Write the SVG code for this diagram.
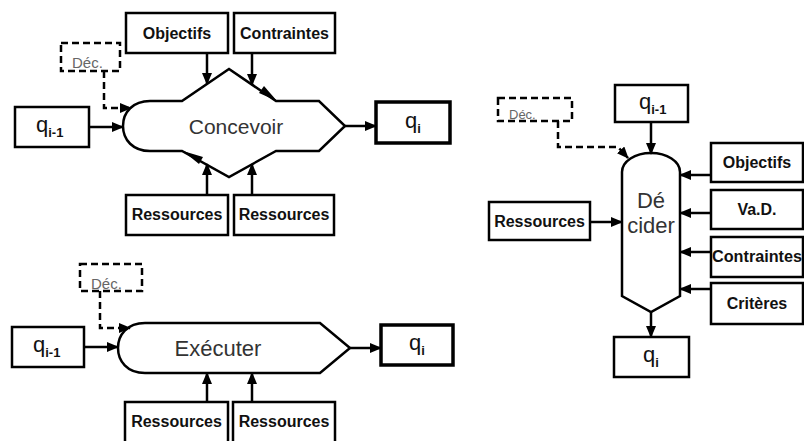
<svg xmlns="http://www.w3.org/2000/svg" width="804" height="441" viewBox="0 0 804 441">
<style>
.box{fill:#fff;stroke:#000;stroke-width:2.5}
.thick{fill:#fff;stroke:#000;stroke-width:3.5}
.dbox{fill:none;stroke:#000;stroke-width:2.5;stroke-dasharray:7 4}
.proc{fill:#fff;stroke:#000;stroke-width:2.5;stroke-linejoin:miter}
.lbl{font-family:"Liberation Sans",Arial,sans-serif;font-weight:bold;font-size:16px;fill:#111;text-anchor:middle}
.big{font-family:"Liberation Sans",Arial,sans-serif;font-size:21px;fill:#333;text-anchor:middle}
.dec{font-family:"Liberation Sans",Arial,sans-serif;font-size:15px;fill:#666}
.q{font-family:"Liberation Sans",Arial,sans-serif;font-size:22px;fill:#111}
.sub{font-size:13px;font-weight:bold}
.arr{fill:none;stroke:#000;stroke-width:2.5;marker-end:url(#ah)}
.darr{fill:none;stroke:#000;stroke-width:2.5;stroke-dasharray:7 4;marker-end:url(#ah)}
.tri{fill:#000}
</style>
<defs>
<marker id="ah" markerUnits="userSpaceOnUse" markerWidth="12" markerHeight="10" refX="11" refY="5" orient="auto">
<path d="M0,0 L12,5 L0,10 Z" fill="#000"/>
</marker>
</defs>
<rect width="804" height="441" fill="#fff"/>

<!-- Concevoir diagram -->
<g id="concevoir">
<path class="proc" d="M150,101 L182,101 L229,69 L276,101 L319,101 L345,126 L319,151 L276,151 L229,177 L182,151 L150,151 C133,151 123,140 123,126 C123,112 133,101 150,101 Z"/>
<text class="big" x="236" y="134">Concevoir</text>
</g>
<g id="c-obj"><rect class="box" x="126" y="13" width="102" height="40"/><text class="lbl" x="177" y="39">Objectifs</text></g>
<g id="c-con"><rect class="box" x="234" y="13" width="101" height="40"/><text class="lbl" x="284.5" y="39">Contraintes</text></g>
<g id="c-dec"><rect class="dbox" x="61" y="43" width="59" height="28"/><text class="dec" x="72" y="68">Déc.</text></g>
<g id="c-qin"><rect class="box" x="15" y="107" width="74" height="40"/><text class="q" x="36" y="132">q<tspan class="sub" dy="5">i-1</tspan></text></g>
<g id="c-qout"><rect class="thick" x="376" y="102" width="74" height="41"/><text class="q" x="405" y="128">q<tspan class="sub" dy="5">i</tspan></text></g>
<g id="c-res1"><rect class="box" x="126" y="195" width="102" height="40"/><text class="lbl" x="177" y="220">Ressources</text></g>
<g id="c-res2"><rect class="box" x="234" y="195" width="100" height="40"/><text class="lbl" x="284" y="220">Ressources</text></g>

<!-- Exécuter diagram -->
<g id="executer">
<path class="proc" d="M145,323 L320,323 L350,348 L320,373 L145,373 C127,373 118,361 118,348 C118,335 127,323 145,323 Z"/>
<text class="big" x="218" y="356" style="font-size:22px">Exécuter</text>
</g>
<g id="e-dec"><rect class="dbox" x="80" y="264" width="62" height="27"/><text class="dec" x="91" y="289">Déc.</text></g>
<g id="e-qin"><rect class="box" x="12" y="327" width="72" height="40"/><text class="q" x="33" y="352">q<tspan class="sub" dy="5">i-1</tspan></text></g>
<g id="e-qout"><rect class="thick" x="381" y="325" width="72" height="40"/><text class="q" x="409" y="350">q<tspan class="sub" dy="5">i</tspan></text></g>
<g id="e-res1"><rect class="box" x="125" y="402" width="103" height="45"/><text class="lbl" x="176.5" y="427">Ressources</text></g>
<g id="e-res2"><rect class="box" x="233" y="402" width="102" height="45"/><text class="lbl" x="284" y="427">Ressources</text></g>

<!-- Décider diagram -->
<g id="decider">
<path class="proc" d="M622,296 L622,172 A29,19 0 0 1 680,172 L680,296 L651,312 Z"/>
<text class="big" x="651" y="208" style="font-size:22px">Dé</text>
<text class="big" x="651" y="233" style="font-size:22px">cider</text>
</g>
<g id="d-dec"><rect class="dbox" x="498" y="98" width="74" height="23"/><text class="dec" x="509" y="119" style="font-size:13px">Déc.</text></g>
<g id="d-qin"><rect class="box" x="615" y="85" width="73" height="37"/><text class="q" x="639" y="109">q<tspan class="sub" dy="5">i-1</tspan></text></g>
<g id="d-qout"><rect class="box" x="614" y="337" width="75" height="40"/><text class="q" x="643" y="362">q<tspan class="sub" dy="5">i</tspan></text></g>
<g id="d-res"><rect class="box" x="489" y="202" width="101" height="38"/><text class="lbl" x="539.5" y="227">Ressources</text></g>
<g id="d-obj"><rect class="box" x="711" y="143" width="92" height="39"/><text class="lbl" x="757" y="168">Objectifs</text></g>
<g id="d-vad"><rect class="box" x="711" y="190" width="92" height="39"/><text class="lbl" x="757" y="215">Va.D.</text></g>
<g id="d-con"><rect class="box" x="711" y="237" width="92" height="40"/><text class="lbl" x="757" y="262" textLength="90" lengthAdjust="spacingAndGlyphs">Contraintes</text></g>
<g id="d-cri"><rect class="box" x="711" y="283" width="92" height="41"/><text class="lbl" x="757" y="309">Critères</text></g>

<!-- connectors -->
<g id="connectors">
<path class="arr" d="M207,53 V84"/>
<path class="arr" d="M252,53 V85"/>
<path class="arr" d="M207,195 V164"/>
<path class="arr" d="M252,195 V164"/>
<path class="arr" d="M89,127 H123"/>
<path class="arr" d="M345,126 H376"/>
<path class="darr" d="M104,71 V108 H131"/>
<path class="tri" d="M277,101 L259,93 L264,86 Z"/>
<path class="tri" d="M183,151 L199,164 L203,157 Z"/>

<path class="arr" d="M84,347 H118"/>
<path class="arr" d="M350,348 H381"/>
<path class="darr" d="M100,291 V328 H130"/>
<path class="arr" d="M207,402 V373"/>
<path class="arr" d="M252,402 V373"/>

<path class="arr" d="M651,122 V154"/>
<path class="darr" d="M558,121 V147 H618 L628,158"/>
<path class="arr" d="M590,222 H622"/>
<path class="arr" d="M711,175 H680"/>
<path class="arr" d="M711,213 H680"/>
<path class="arr" d="M711,252 H680"/>
<path class="arr" d="M711,289 H680"/>
<path class="arr" d="M651,312 V337"/>
</g>
</svg>
